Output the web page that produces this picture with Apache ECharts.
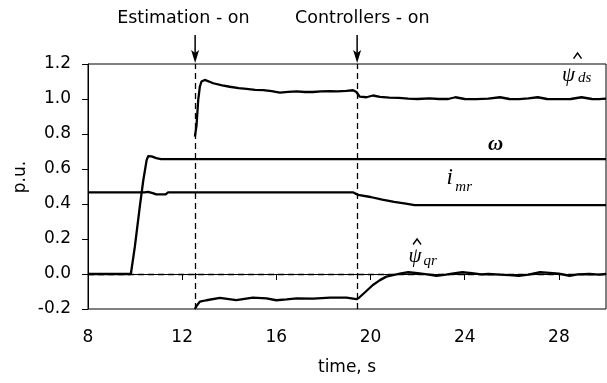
<!DOCTYPE html>
<html>
<head>
<meta charset="utf-8">
<script src="https://cdn.jsdelivr.net/npm/echarts@6/dist/echarts.min.js"></script>
<style>html,body{margin:0;padding:0;background:#fff}#c{width:607px;height:383px}</style>
</head>
<body>
<div id="c"></div>
<script>
// ---- data ----
const xTicks = [8, 12, 16, 20, 24, 28];
const yTicks = [-0.2, 0.0, 0.2, 0.4, 0.6, 0.8, 1.0, 1.2];
const estimationOn = 12.55;
const controllersOn = 19.43;

const omegaT = [8, 9.82, 9.99, 10.2, 10.35, 10.49, 10.56, 10.7, 10.9, 11.1, 30];
const omegaV = [0, 0, 0.156, 0.385, 0.537, 0.651, 0.674, 0.672, 0.662, 0.657, 0.657];

const imrT = [8, 10.4, 10.55, 10.75, 10.9, 11.3, 11.4, 19.25, 19.47, 20.0, 20.5, 21.0, 21.5, 21.87, 30];
const imrV = [0.467, 0.467, 0.469, 0.462, 0.455, 0.455, 0.466, 0.467, 0.452, 0.440, 0.425, 0.412, 0.402, 0.394, 0.394];

const psiDsT = [12.54, 12.61, 12.68, 12.75, 12.82, 12.96, 13.32, 13.7, 14.02, 14.4, 14.73, 15.1, 15.44, 15.8, 16.15, 16.5, 16.86, 17.2, 17.55, 17.9, 18.26, 18.6, 18.97, 19.26, 19.4, 19.54, 19.83, 20.1, 20.4, 20.8, 21.2, 21.6, 22.0, 22.5, 22.9, 23.3, 23.6, 24.0, 24.5, 25.0, 25.5, 25.9, 26.3, 26.7, 27.1, 27.5, 28.0, 28.5, 28.96, 29.4, 29.7, 30.0];
const psiDsV = [0.785, 0.85, 0.994, 1.07, 1.10, 1.109, 1.09, 1.078, 1.07, 1.062, 1.058, 1.052, 1.051, 1.045, 1.036, 1.041, 1.044, 1.04, 1.04, 1.043, 1.045, 1.043, 1.046, 1.05, 1.04, 1.013, 1.01, 1.02, 1.012, 1.008, 1.006, 1.002, 1.0, 1.004, 1.0, 1.0, 1.01, 1.0, 0.999, 1.002, 1.01, 1.0, 0.999, 1.003, 1.01, 1.0, 0.999, 1.0, 1.01, 1.0, 0.999, 1.002];

const psiQrT = [12.54, 12.61, 12.75, 13.03, 13.6, 14.3, 15.0, 15.58, 16.0, 16.44, 16.86, 17.57, 18.28, 18.98, 19.4, 19.5, 19.8, 20.1, 20.4, 20.67, 21.0, 21.3, 21.6, 22.0, 22.4, 22.8, 23.2, 23.6, 23.9, 24.3, 24.7, 25.0, 25.5, 25.9, 26.3, 26.7, 27.2, 27.6, 28.0, 28.45, 28.8, 29.3, 29.7, 30.0];
const psiQrV = [-0.2, -0.183, -0.158, -0.15, -0.137, -0.149, -0.135, -0.139, -0.15, -0.145, -0.139, -0.141, -0.135, -0.135, -0.144, -0.137, -0.10, -0.063, -0.035, -0.015, -0.005, 0.003, 0.01, 0.005, -0.002, -0.01, -0.003, 0.005, 0.01, 0.005, -0.002, 0.0, -0.004, -0.006, -0.01, -0.003, 0.01, 0.006, 0.002, -0.01, -0.002, 0.0, -0.003, 0.0];

// label anchors in data coordinates
const labelPsiDs = [28.41, 1.134];
const labelOmega = [25.31, 0.737];
const labelImr = [23.36, 0.549];
const labelPsiQr = [21.89, 0.10];
const eventTexts = ['Estimation - on', 'Controllers - on'];
const eventTextX = [12.05, 19.65];
const yAxisTitle = 'p.u.';
const xAxisTitle = 'time, s';

const zip = (t, v) => t.map((x, i) => [x, v[i]]);

const chart = echarts.init(document.getElementById('c'), null, {renderer: 'canvas'});
const sans = 'DejaVu Sans';
const lineStyle = {color: '#000', width: 2.3};
const mkSeries = (name, data) => ({
  name, type: 'line', data, symbol: 'none', showSymbol: false,
  lineStyle, itemStyle: {color: '#000'}, animation: false, z: 3
});

chart.setOption({
  animation: false,
  grid: {left: 88, right: 1, top: 64, bottom: 74, containLabel: false, outerBoundsMode: 'none',
    show: true, borderColor: '#000', borderWidth: 1, backgroundColor: 'transparent'},
  xAxis: {
    type: 'value', min: 8, max: 30, interval: 4,
    name: xAxisTitle, nameLocation: 'middle', nameGap: 50,
    nameTextStyle: {fontFamily: sans, fontSize: 17, color: '#000'},
    axisLine: {show: true, lineStyle: {color: '#000', width: 1}},
    axisTick: {show: true, inside: false, length: 6, lineStyle: {color: '#000'}},
    axisLabel: {fontFamily: sans, fontSize: 17, color: '#000', margin: 20, showMaxLabel: false,
      formatter: v => xTicks.includes(v) ? String(v) : ''},
    splitLine: {show: false}
  },
  yAxis: {
    type: 'value', min: -0.2, max: 1.2, interval: 0.2,
    axisLine: {show: true, lineStyle: {color: '#000', width: 1}},
    axisTick: {show: true, inside: false, length: 6, lineStyle: {color: '#000'}},
    axisLabel: {fontFamily: sans, fontSize: 17, color: '#000', margin: 17,
      formatter: v => {
        const m = yTicks.find(t => Math.abs(t - v) < 1e-6);
        return m === undefined ? '' : m.toFixed(1);
      }},
    splitLine: {show: false}
  },
  series: [
    Object.assign(mkSeries('omega', zip(omegaT, omegaV)), {
      markLine: {
        silent: true, symbol: 'none', animation: false,
        label: {show: false},
        lineStyle: {color: '#000', type: [6, 4], width: 1.3},
        data: [{xAxis: estimationOn}, {xAxis: controllersOn}, {yAxis: 0}]
      }
    }),
    mkSeries('imr', zip(imrT, imrV)),
    mkSeries('psi_ds', zip(psiDsT, psiDsV)),
    mkSeries('psi_qr', zip(psiQrT, psiQrV))
  ]
});

function px(p) { return chart.convertToPixel({gridIndex: 0}, p); }
const g = [];
function txt(x, y, s, font, extra) {
  g.push({type: 'text', x, y, z: 10, style: Object.assign({text: s, fill: '#000', font, align: 'center', verticalAlign: 'middle'}, extra || {})});
}
function hat(x, y) {
  g.push({type: 'polyline', shape: {points: [[x - 4, y + 3], [x, y - 2.5], [x + 4, y + 3]]}, style: {stroke: '#000', lineWidth: 1.4, fill: null}, z: 10});
}
// y axis title (rotated)
g.push({type: 'text', x: 21, y: 177, rotation: Math.PI / 2, z: 10,
  style: {text: yAxisTitle, fill: '#000', font: '17px "DejaVu Sans"', align: 'center', verticalAlign: 'middle'}});
// event arrows & texts
[estimationOn, controllersOn].forEach((t, i) => {
  const x = px([t, 0])[0];
  g.push({type: 'line', shape: {x1: x, y1: 35, x2: x, y2: 56}, style: {stroke: '#000', lineWidth: 1.5}, z: 10});
  g.push({type: 'polygon', shape: {points: [[x - 4, 50], [x, 63], [x + 4, 50], [x, 53]]}, style: {fill: '#000'}, z: 10});
  const tx = px([eventTextX[i], 0])[0];
  txt(tx, 18, eventTexts[i], '17.5px "DejaVu Sans"');
});
// psi_ds label
let p = px(labelPsiDs);
txt(p[0], p[1], 'ψ', 'italic 21px "Liberation Serif"');
txt(p[0] + 16, p[1] + 3, 'ds', 'italic 15px "Liberation Serif"');
hat(p[0] + 9, p[1] - 20);
// omega
p = px(labelOmega);
txt(p[0], p[1], 'ω', 'italic bold 21px "Liberation Serif"');
// i_mr
p = px(labelImr);
txt(p[0], p[1], 'i', 'italic 23px "Liberation Serif"');
txt(p[0] + 14, p[1] + 9, 'mr', 'italic 15px "Liberation Serif"');
// psi_qr
p = px(labelPsiQr);
txt(p[0], p[1], 'ψ', 'italic 21px "Liberation Serif"');
txt(p[0] + 15, p[1] + 5, 'qr', 'italic 15px "Liberation Serif"');
hat(p[0] + 2, p[1] - 15);

chart.setOption({graphic: g});
</script>
</body>
</html>
